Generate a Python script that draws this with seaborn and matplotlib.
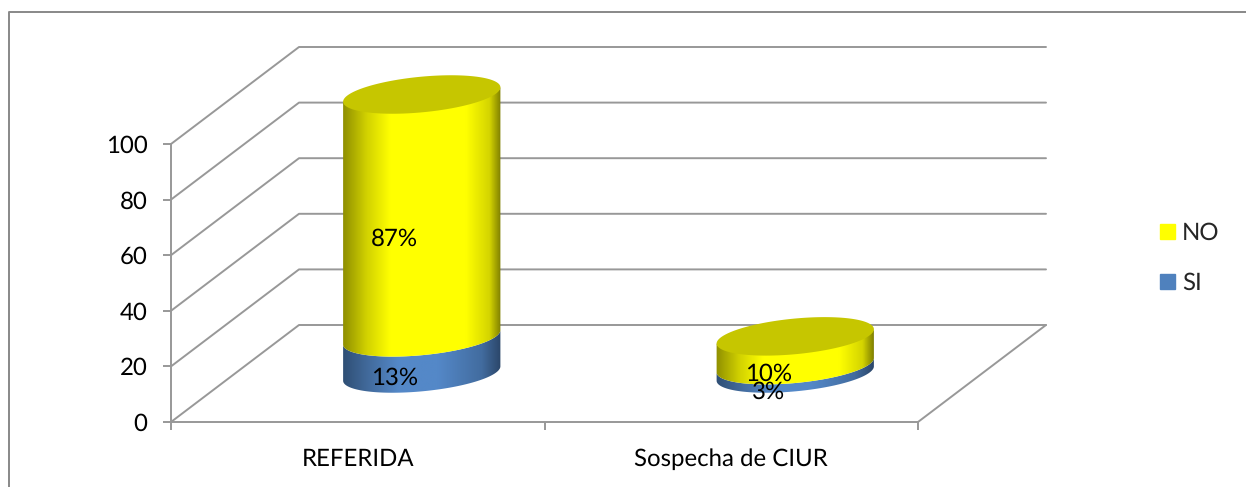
import numpy as np
import matplotlib
matplotlib.use('Agg')
import matplotlib.pyplot as plt
import seaborn as sns
from matplotlib.colors import LinearSegmentedColormap
from matplotlib.lines import Line2D
from matplotlib.patches import PathPatch, Patch
from matplotlib.path import Path
from matplotlib.transforms import IdentityTransform

# Chart values
categories = ['REFERIDA', 'Sospecha de CIUR']
si_values = [13, 3]
no_values = [87, 10]
y_ticks = [0, 20, 40, 60, 80, 100]

W, H = 1246, 487
GRAY = '#989898'
FONT = 17
DEPTH = (128, 97)        # back wall offset in pixels
TILT = np.radians(5.5)
CAP_RATIO = 0.225        # ellipse minor / major

sns.set_style('white')
plt.rcParams['font.family'] = ['Lato', 'DejaVu Sans']
plt.rcParams['text.hinting'] = 'none'
plt.rcParams['text.hinting_factor'] = 1

fig = plt.figure(figsize=(W / 100, H / 100), dpi=100)
ax = fig.add_axes([171 / W, 1 - 422 / H, (918 - 171) / W, (422 - 144) / H])

# Stacked bars: totals behind, SI in front, cylinders are built on their geometry
totals = [s + n for s, n in zip(si_values, no_values)]
sns.barplot(x=categories, y=totals, width=0.423, ax=ax)
n_bars = len(ax.patches)
sns.barplot(x=categories, y=si_values, width=0.423, ax=ax)
total_bars = ax.patches[:n_bars]
si_bars = ax.patches[n_bars:]
ax.set_xlim(-0.5, 1.5)
ax.set_ylim(0, 100)


def proj(x, y, depth=0.0):
    px, py = ax.transData.transform((x, y))
    return px + depth * DEPTH[0], py + depth * DEPTH[1]


def ellipse_pts(cx, cy, a, t):
    ex, ey = a * np.cos(t), a * CAP_RATIO * np.sin(t)
    return np.column_stack([cx + ex * np.cos(TILT) - ey * np.sin(TILT),
                            cy + ex * np.sin(TILT) + ey * np.cos(TILT)])


def draw_body(x, y0, y1, a, colors, z, lift=0.0):
    cx, cy0 = proj(x, y0, 0.5)
    cy1 = proj(x, y1, 0.5)[1] + lift
    arc = np.linspace(np.pi, 2 * np.pi, 80)
    pts = np.vstack([ellipse_pts(cx, cy0, a, arc), ellipse_pts(cx, cy1, a, arc)[::-1]])
    path = Path(np.vstack([pts, pts[0]]), closed=True)
    cmap = LinearSegmentedColormap.from_list('c', colors)
    grad = np.linspace(0, 1, 256).reshape(1, -1)
    im = ax.imshow(grad, cmap=cmap, aspect='auto', zorder=z, interpolation='bilinear',
                   extent=(cx - a, cx + a, pts[:, 1].min() - 2, pts[:, 1].max() + 2),
                   transform=IdentityTransform())
    im.set_clip_path(path, IdentityTransform())
    im.set_clip_box(fig.bbox)


# Walls and floor
for v in y_ticks:
    x0, y0 = proj(-0.5, v)
    x1, y1 = proj(-0.5, v, 1)
    x2, y2 = proj(1.5, v, 1)
    ax.add_line(Line2D([x0, x1, x2], [y0, y1, y2], color=GRAY, lw=1.4,
                       transform=IdentityTransform(), clip_on=False, zorder=1))
x0, y0 = proj(1.5, 0)
x1, y1 = proj(1.5, 0, 1)
ax.add_line(Line2D([x0, x1], [y0, y1], color=GRAY, lw=1.4,
                   transform=IdentityTransform(), clip_on=False, zorder=1))

yellow = [(0, '#8f8f00'), (0.15, '#d2d200'), (0.3, '#ffff00'), (0.78, '#ffff00'),
          (0.93, '#d4d400'), (1, '#7f7f00')]
blue = [(0, '#2f4f75'), (0.15, '#41699a'), (0.35, '#5488c8'), (0.6, '#5488c8'),
        (0.88, '#426c9f'), (1, '#2b4669')]

# Cylinders built from the bars seaborn laid out
for tot, si in zip(total_bars, si_bars):
    x = tot.get_x() + tot.get_width() / 2
    a = (proj(tot.get_x() + tot.get_width(), 0)[0] - proj(tot.get_x(), 0)[0]) / 2
    top = tot.get_height()
    draw_body(x, 0, si.get_height(), a, blue, 3)
    draw_body(x, si.get_height(), top, a, yellow, 4, lift=2)
    cx, cy = proj(x, top, 0.5)
    cap = ellipse_pts(cx, cy + 1, a, np.linspace(0, 2 * np.pi, 160))
    ax.add_patch(PathPatch(Path(cap), facecolor='#c6c600', edgecolor='none',
                           transform=IdentityTransform(), clip_on=False, zorder=5))
    tot.set_visible(False)
    si.set_visible(False)

# Percent labels
for i, (s, n) in enumerate(zip(si_values, no_values)):
    for mid, val in ((s / 2, s), (s + n / 2, n)):
        px = proj(i, mid, 0.29)[0]
        py = proj(i, mid, 0.27)[1]
        ax.text(px, py, f'{val}%', transform=IdentityTransform(), ha='center', va='center',
                fontsize=FONT, color='black', zorder=6, clip_on=False)

# Axes
sns.despine(ax=ax, top=True, right=True)
for side in ('left', 'bottom'):
    ax.spines[side].set_color(GRAY)
    ax.spines[side].set_linewidth(1.4)
ax.set_yticks(y_ticks)
ax.set_xticks([0, 1])
ax.set_xticklabels(categories)
ax.set_xticks([-0.5, 0.5, 1.5], minor=True)
ax.tick_params(axis='y', left=True, length=6, width=1.4, color=GRAY, labelsize=FONT, pad=11, labelcolor='black')
ax.tick_params(axis='x', which='major', bottom=False, length=0, labelsize=FONT, pad=19, labelcolor='black')
ax.tick_params(axis='x', which='minor', bottom=True, length=6, width=1.4, color=GRAY)

# Legend
handles = [Patch(color='#ffff00', label='NO'), Patch(color='#4f81bd', label='SI')]
fig.legend(handles=handles, frameon=False, fontsize=FONT, loc='center left',
           bbox_to_anchor=(1160 / W, 1 - 258 / H), handlelength=0.64, handleheight=0.64,
           handletextpad=0.28, labelspacing=1.2, borderpad=0, borderaxespad=0)

# Chart frame, open at the bottom and right
fig.add_artist(Line2D([8.5 / W, 8.5 / W, 1], [0, 1 - 11.5 / H, 1 - 11.5 / H], color='#888888', lw=1.4,
                      transform=fig.transFigure))

fig.savefig('out.png', dpi=100, facecolor='white')
